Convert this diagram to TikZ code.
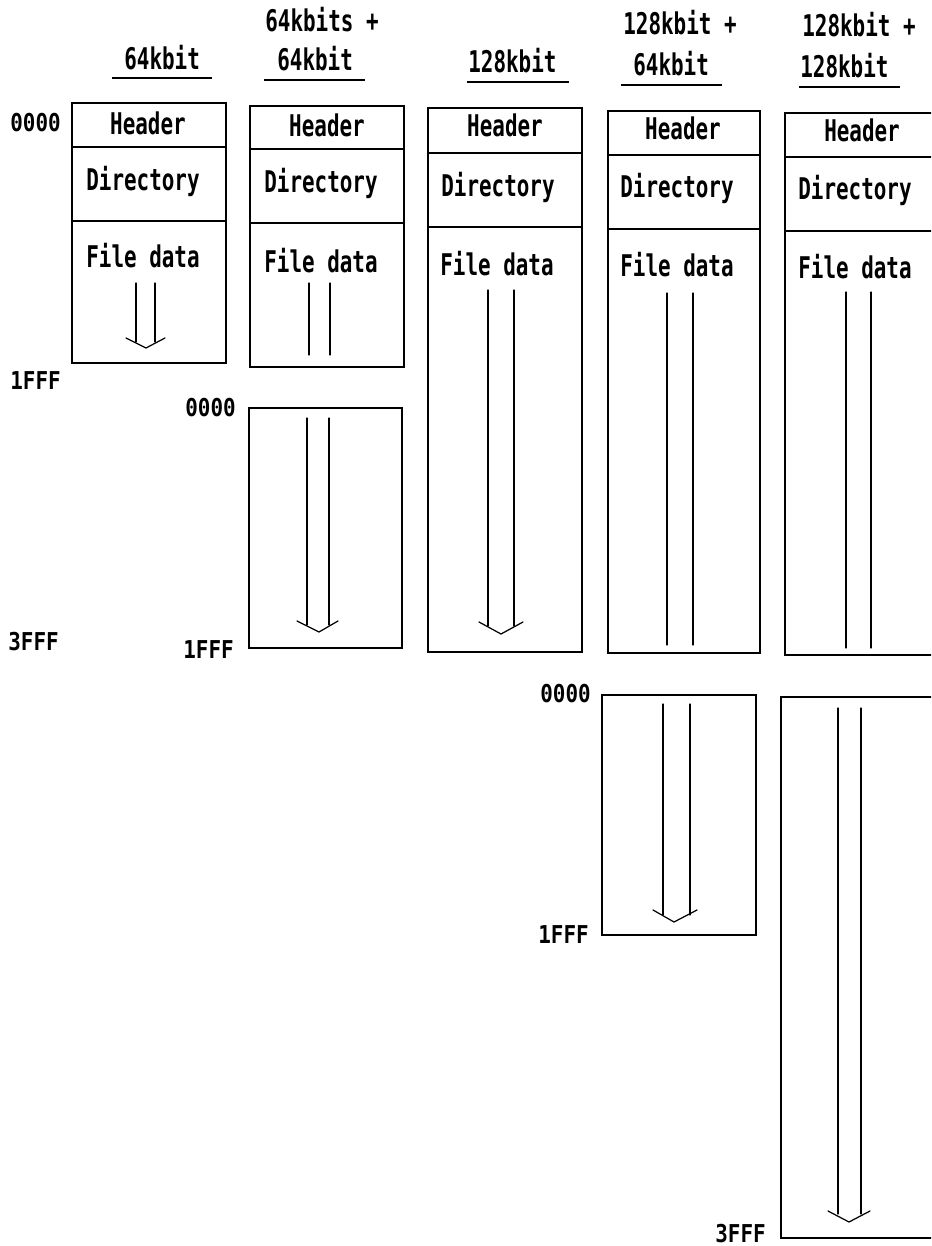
\documentclass[tikz,border=0pt]{standalone}
\usepackage{fontspec}
\newfontfamily\memfont[FakeStretch=0.70]{DejaVu Sans Mono}
\newfontfamily\addrfont[FakeStretch=0.85]{DejaVu Sans Mono}
\usepackage{tikz}
\usetikzlibrary{positioning}

\begin{document}
\begin{tikzpicture}[
    x=0.02cm, y=-0.02cm,
    mem/.style={draw=black, line width=1.1pt},
    label/.style={inner sep=0pt, anchor=base west, font=\memfont\bfseries\fontsize{17}{20}\selectfont},
    head/.style={label, anchor=base},
    addr/.style={inner sep=0pt, anchor=base west, font=\addrfont\bfseries\fontsize{14}{16}\selectfont},
    uline/.style={line width=1.1pt},
    shaft/.style={line width=0.7pt, line cap=round, line join=round}
]
    \clip (0,0) rectangle (931,1246);

    % Titles
    \node[label] (t1) at (124,70) {64kbit};
    \node[label] (t2a) at (265,32) {64kbits +};
    \node[label] (t2) at (277,71) {64kbit};
    \node[label] (t3) at (468,73) {128kbit};
    \node[label] (t4a) at (623,35) {128kbit +};
    \node[label] (t4) at (633,76) {64kbit};
    \node[label] (t5a) at (802,37) {128kbit +};
    \node[label] (t5) at (800,78) {128kbit};
    \draw[uline] (112,78) -- (212,78);
    \draw[uline] (264,80) -- (365,80);
    \draw[uline] (467,82) -- (569,82);
    \draw[uline] (621,85) -- (722,85);
    \draw[uline] (799,87) -- (900,87);

    % Addresses
    \node[addr] (a1) at (10,132) {0000};
    \node[addr] (a2) at (10,390) {1FFF};
    \node[addr] (a3) at (8,650) {3FFF};
    \node[addr] (a4) at (185,417) {0000};
    \node[addr] (a5) at (183,658) {1FFF};
    \node[addr] (a6) at (540,702) {0000};
    \node[addr] (a7) at (538,943) {1FFF};
    \node[addr] (a8) at (715,1242) {3FFF};

    % Memory blocks
    \draw[mem] (72,103) rectangle (226,363);
    \draw[mem] (72,147) -- (226,147) (72,221) -- (226,221);
    \draw[mem] (250,106) rectangle (404,367);
    \draw[mem] (250,149) -- (404,149) (250,223) -- (404,223);
    \draw[mem] (428,108) rectangle (582,652);
    \draw[mem] (428,153) -- (582,153) (428,227) -- (582,227);
    \draw[mem] (608,111) rectangle (760,653);
    \draw[mem] (608,155) -- (760,155) (608,229) -- (760,229);
    \draw[mem] (785,113) rectangle (960,655);
    \draw[mem] (785,157) -- (960,157) (785,231) -- (960,231);
    \draw[mem] (249,408) rectangle (402,648);
    \draw[mem] (602,695) rectangle (756,935);
    \draw[mem] (781,697) rectangle (960,1238);

    % Block contents
    \node[head] (h1) at (148,135) {Header};
    \node[label] (d1) at (86,191) {Directory};
    \node[label] (f1) at (86,268) {File data};
    \node[head] (h2) at (327,137) {Header};
    \node[label] (d2) at (264,193) {Directory};
    \node[label] (f2) at (264,273) {File data};
    \node[head] (h3) at (505,137) {Header};
    \node[label] (d3) at (441,197) {Directory};
    \node[label] (f3) at (440,276) {File data};
    \node[head] (h4) at (683,140) {Header};
    \node[label] (d4) at (620,198) {Directory};
    \node[label] (f4) at (620,277) {File data};
    \node[head] (h5) at (862,142) {Header};
    \node[label] (d5) at (798,200) {Directory};
    \node[label] (f5) at (798,279) {File data};

    % Growth arrows
    \draw[shaft] (136,283) -- (136,342) (155,283) -- (155,342);
    \draw[shaft] (126,338) -- (146,348) -- (165,338);
    \draw[shaft] (309,283) -- (309,355) (330,283) -- (330,355);
    \draw[shaft] (307,418) -- (307,625) (329,418) -- (329,625);
    \draw[shaft] (297,621) -- (319,632) -- (338,621);
    \draw[shaft] (488,290) -- (488,626) (514,290) -- (514,626);
    \draw[shaft] (479,622) -- (501,634) -- (523,622);
    \draw[shaft] (667,293) -- (667,645) (693,293) -- (693,645);
    \draw[shaft] (663,704) -- (663,915) (690,704) -- (690,915);
    \draw[shaft] (653,910) -- (674,922) -- (697,910);
    \draw[shaft] (846,292) -- (846,648) (871,292) -- (871,648);
    \draw[shaft] (838,708) -- (838,1214) (861,708) -- (861,1214);
    \draw[shaft] (828,1211) -- (849,1222) -- (870,1211);
\end{tikzpicture}
\end{document}
